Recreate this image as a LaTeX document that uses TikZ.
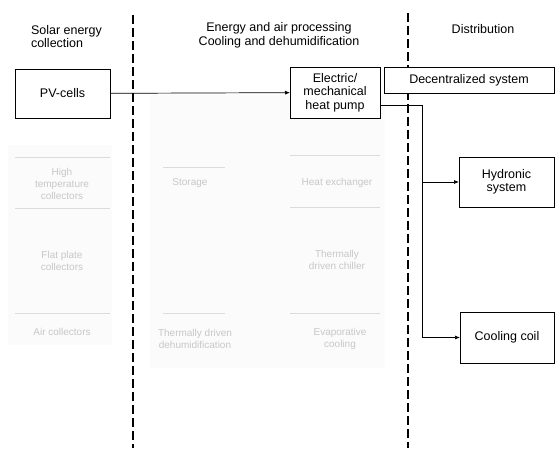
\documentclass[tikz,border=0pt]{standalone}
\usepackage{fontspec}
\setmainfont{Liberation Sans}
\usetikzlibrary{arrows.meta}
\begin{document}
\begin{tikzpicture}[x=1pt,y=1pt,
  every node/.style={font=\fontsize{12.5}{13.5}\selectfont, inner sep=0pt, outer sep=0pt},
  box/.style={draw=drawColor, line width=0.9pt, fill=white, align=center},
  faded/.style={text=black!22, font=\fontsize{10}{12}\selectfont, align=center},
  fadeline/.style={draw=black!14, line width=0.6pt},
  zone/.style={draw=drawColor, line width=2pt, dash pattern=on 9pt off 4pt},
  link/.style={draw=drawColor, line width=0.7pt, -{Latex[length=5pt,width=4pt]}},
]
\definecolor{drawColor}{RGB}{0,0,0}
\definecolor{fillColor}{RGB}{255,255,255}
\path[use as bounding box,fill=fillColor] (0,0) rectangle (555,448);

% faded background
\path[fill=black!1.5] (8,103) rectangle (112,303);
\path[fill=black!1.5] (150,80) rectangle (385,353);

% column borders
\path[zone] (133,433) -- (133,0);
\path[zone] (408,435) -- (408,0);

% headings
\node[anchor=west,align=left] (hdsolar) at (31,411.5) {Solar energy\\collection};
\node[align=center] (hdproc) at (279,412.5) {Energy and air processing\\Cooling and dehumidification};
\node (hddist) at (483,419) {Distribution};

% faded parts
\path[fadeline] (15,291) -- (110,291);
\path[fadeline] (15,240) -- (110,240);
\node[faded] (hitemp) at (62,264) {High\\temperature\\collectors};
\node[faded] (flat) at (62,187) {Flat plate\\collectors};
\path[fadeline] (15,135) -- (110,135);
\node[faded] (air) at (62,116) {Air collectors};

\path[fadeline] (163,281) -- (225,281);
\node[faded] (store) at (190,265) {Storage};
\path[fadeline] (163,135) -- (225,135);
\node[faded] (dehum) at (195,109) {Thermally driven\\dehumidification};

\path[fadeline] (290,293) -- (380,293);
\path[fadeline] (290,241) -- (380,241);
\node[faded] (hex) at (337,265) {Heat exchanger};
\node[faded] (chill) at (337,188) {Thermally\\driven chiller};
\path[fadeline] (290,135) -- (380,135);
\node[faded] (evap) at (340,109) {Evaporative\\cooling};

% boxes
\node[box, minimum width=95pt, minimum height=49pt] (pv) at (62.5,354.5) {PV-cells};
\node[box, minimum width=90pt, minimum height=51pt] (hp) at (335,355.5) {Electric/\\mechanical\\heat pump};
\node[box, minimum width=170pt, minimum height=26pt] (dec) at (469,368) {Decentralized system};
\node[box, minimum width=95pt, minimum height=50pt] (hyd) at (506.5,266) {Hydronic\\system};
\node[box, minimum width=94pt, minimum height=51pt] (cool) at (507,110.5) {Cooling coil};

% connections
\draw[link] (pv) -- (hp);
\coordinate (split) at (422,343);
\draw[link] (hp.east |- split) -- (split) |- (hyd);
\draw[link] (split) |- (cool);
\end{tikzpicture}
\end{document}
